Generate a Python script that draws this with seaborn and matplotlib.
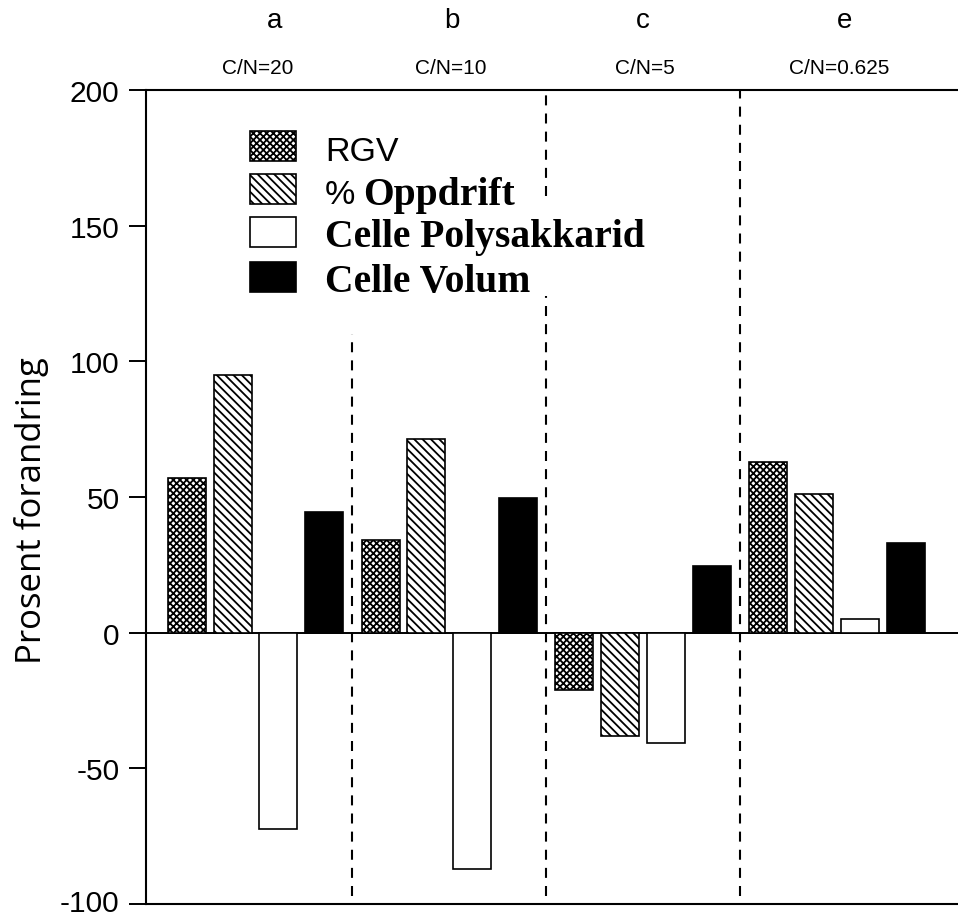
import matplotlib
matplotlib.use("Agg")
import matplotlib.pyplot as plt
import matplotlib.transforms as mtransforms
from matplotlib.patches import Patch
import seaborn as sns
import pandas as pd

# ---- data ----
groups = ["a", "b", "c", "e"]
ratios = ["C/N=20", "C/N=10", "C/N=5", "C/N=0.625"]
series = ["RGV", "% Oppdrift", "Celle Polysakkarid", "Celle Volum"]
rgv = [57, 34, -21, 63]
oppdrift = [95, 71.5, -38, 51]
polysakkarid = [-72.5, -87, -40.5, 5]
volum = [44.5, 49.5, 24.5, 33]
yticks = [-100, -50, 0, 50, 100, 150, 200]
ylabel = "Prosent forandring"

rows = []
for vals, name in zip([rgv, oppdrift, polysakkarid, volum], series):
    for g, v in zip(groups, vals):
        rows.append({"group": g, "series": name, "value": v})
df = pd.DataFrame(rows)

sns.set_theme(style="white")
plt.rcParams["font.family"] = ["Liberation Sans", "DejaVu Sans"]
plt.rcParams["hatch.linewidth"] = 1.3
plt.rcParams["text.color"] = "black"
plt.rcParams["axes.labelcolor"] = "black"

W, H = 958, 920
fig = plt.figure(figsize=(W / 100, H / 100), dpi=100)
ax = fig.add_axes([146 / W, 15 / H, (W - 146) / W, (905 - 91) / H])

face = ["white", "white", "white", "black"]
hatches = ["xxxxx", "\\\\\\\\", "", ""]
sns.barplot(data=df, x="group", y="value", hue="series", order=groups,
            hue_order=series, width=0.945, gap=0.17, ax=ax, legend=False,
            palette=["white"] * 4, saturation=1)
for cont, fc, h in zip(ax.containers, face, hatches):
    for bar in cont:
        bar.set_facecolor(fc)
        bar.set_edgecolor("black")
        bar.set_linewidth(1.2)
        bar.set_hatch(h)

ax.set_xlim(-0.565, 3.625)
ax.set_ylim(-100, 200)
ax.set_yticks(yticks)
ax.set_yticklabels([str(t) for t in yticks], fontsize=21.5)
ax.set_xticks([])
ax.set_xlabel("")
ax.set_ylabel(ylabel, fontsize=25, family=["Open Sans", "DejaVu Sans"],
              color="black")
ax.yaxis.set_label_coords(-0.119, 0.485)
ax.axhline(0, color="black", lw=1.4, zorder=0)

for s in ["left", "top", "bottom"]:
    ax.spines[s].set_visible(True)
    ax.spines[s].set_color("black")
    ax.spines[s].set_linewidth(1.5)
ax.spines["right"].set_visible(False)
ax.tick_params(axis="y", left=True, length=12, width=1.4, direction="out",
               colors="black", pad=7)
# nudge the lowest tick label up a little so it stays inside the figure
lowest = ax.get_yticklabels()[0]
lowest.set_transform(lowest.get_transform() +
                     mtransforms.ScaledTranslation(0, 4 / 100, fig.dpi_scale_trans))

# dashed separators between groups
dash = (0, (4.8, 3.9))
ax.vlines(0.5, -97, 110, colors="black", linestyles=dash, lw=1.5)
ax.vlines(1.5, 161, 200, colors="black", linestyles=dash, lw=1.5)
ax.vlines(1.5, -97, 124, colors="black", linestyles=dash, lw=1.5)
ax.vlines(2.5, -97, 200, colors="black", linestyles=dash, lw=1.5)

# group labels above
trans = mtransforms.blended_transform_factory(ax.transData, fig.transFigure)
letter_dx = [0.1, 0.015, 0.0, 0.04]
for i, (g, r) in enumerate(zip(groups, ratios)):
    ax.text(i + letter_dx[i], 1 - 21 / H, g, transform=trans, ha="center",
            va="center", fontsize=20, color="black")
    ax.text(i + 0.01, 1 - 68 / H, r, transform=trans, ha="center",
            va="center", fontsize=15, color="black")

# legend
handles = [Patch(facecolor=fc, edgecolor="black", hatch=h, lw=1.2)
           for fc, h in zip(face, hatches)]
labels = ["RGV", "%", "Celle Polysakkarid", "Celle Volum"]
leg = ax.legend(handles, labels, loc="upper left",
                bbox_to_anchor=(250 / W, 1 - 132 / H),
                bbox_transform=fig.transFigure, frameon=False,
                prop={"family": "Liberation Serif", "weight": "bold", "size": 28.5},
                handlelength=1.17, handleheight=0.8, handletextpad=0.73,
                labelspacing=0.18, borderpad=0, borderaxespad=0)
for t in leg.get_texts():
    t.set_color("black")
for t in leg.get_texts()[:2]:
    t.set_fontfamily(["Liberation Sans", "DejaVu Sans"])
    t.set_fontweight("normal")
    t.set_fontsize(24.5)

fig.canvas.draw()
pct = leg.get_texts()[1]
bb = pct.get_window_extent()
inv = fig.transFigure.inverted()
x0, y0 = inv.transform((bb.x1 + 8, (bb.y0 + bb.y1) / 2))
fig.text(x0, y0, "Oppdrift", ha="left", va="center",
         family="Liberation Serif", weight="bold", fontsize=28.5, color="black")

fig.savefig("out.png", dpi=100, facecolor="white")
